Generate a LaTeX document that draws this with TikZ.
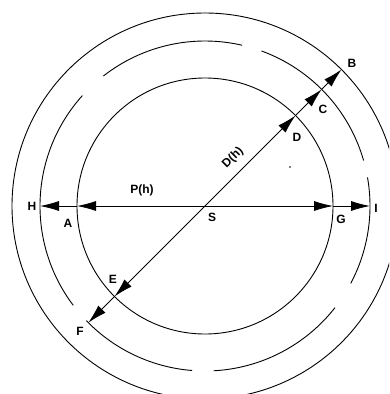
\documentclass[tikz,border=0pt]{standalone}
\usepackage{fontspec}
\setmainfont{Liberation Sans}
\usetikzlibrary{arrows.meta}
\begin{document}
\begin{tikzpicture}[x=1pt,y=1pt,
  ring/.style={line width=0.9pt},
  arr/.style={line width=0.8pt,-{Latex[length=19pt,width=10pt]}},
  lbl/.style={font=\fontsize{12}{14}\selectfont\bfseries, inner sep=0pt}]
\useasboundingbox (0,0) rectangle (389,-394);
\clip (0,0) rectangle (389,-394);
\coordinate (S) at (205,-206);
% circles
\draw[ring] (S) circle[radius=128];
\draw[ring] (S) circle[radius=193];
\foreach \a/\b in {77/128,138/217,224/265.5,273/322,332/370,16/70}
  \draw[ring] ([shift={(\a:165)}]S) arc[start angle=\a,end angle=\b,radius=165];
% points
\coordinate (A) at ([shift={(180:128)}]S);
\coordinate (G) at ([shift={(0:128)}]S);
\coordinate (H) at ([shift={(180:165)}]S);
\coordinate (I) at ([shift={(0:165)}]S);
\coordinate (D) at ([shift={(45:128)}]S);
\coordinate (C) at ([shift={(45:165)}]S);
\coordinate (B) at ([shift={(45:193)}]S);
\coordinate (E) at ([shift={(225:128)}]S);
\coordinate (F) at ([shift={(225:165)}]S);
% arrows
\draw[arr] (S) -- (G);
\draw[arr] (G) -- (I);
\draw[arr] (S) -- (A);
\draw[arr] (A) -- (H);
\draw[arr] (S) -- (D);
\draw[arr] (D) -- (C);
\draw[arr] (C) -- (B);
\draw[arr] (S) -- (E);
\draw[arr] (E) -- (F);
% labels
\node[lbl] (lB) at (352,-63) {B};
\node[lbl] (lC) at (323,-109) {C};
\node[lbl] (lD) at (297,-137) {D};
\node[lbl] (lPh) at (142,-190) {P(h)};
\node[lbl,rotate=45] (lDh) at (233,-158) {D(h)};
\node[lbl] (lS) at (212,-217) {S};
\node[lbl] (lH) at (32,-206) {H};
\node[lbl] (lA) at (68,-223) {A};
\node[lbl] (lG) at (341,-219) {G};
\node[lbl] (lI) at (376,-208) {I};
\node[lbl] (lE) at (113,-279) {E};
\node[lbl] (lF) at (80,-331) {F};
\fill (290,-167) circle[radius=0.9];
\end{tikzpicture}
\end{document}
